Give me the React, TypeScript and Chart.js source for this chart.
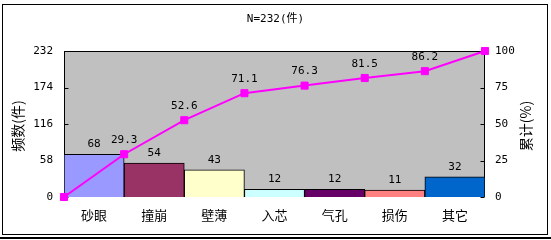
import React, { useEffect, useRef } from "react";
import { Chart, registerables } from "chart.js";

Chart.register(...registerables);

const categories = ["砂眼", "撞崩", "壁薄", "入芯", "气孔", "损伤", "其它"];
const counts = [68, 54, 43, 12, 12, 11, 32];
const cumulativePct = [0, 29.3, 52.6, 71.1, 76.3, 81.5, 86.2, 100];
const barColors = ["#9999FF", "#993366", "#FFFFCC", "#CCFFFF", "#660066", "#FF8080", "#0066CC"];
const leftTicks = [0, 58, 116, 174, 232];
const rightTicks = [0, 25, 50, 75, 100];
const titleText = "N=232(件)";
const leftTitle = "频数(件)";
const rightTitle = "累计(%)";

const NUM_FONT = '"DejaVu Sans Mono", "Noto Sans CJK SC", monospace';
const CJK_FONT = '"Noto Sans CJK SC", sans-serif';

const paretoPlugin = {
  id: "pareto",
  beforeDraw(chart: any) {
    const { ctx, chartArea: a } = chart;
    ctx.save();
    ctx.fillStyle = "#C0C0C0";
    ctx.fillRect(a.left, a.top, a.right - a.left, a.bottom - a.top);
    ctx.restore();
  },
  beforeDatasetsDraw(chart: any) {
    const { ctx, chartArea: a, scales } = chart;
    ctx.save();
    ctx.strokeStyle = "#000";
    ctx.lineWidth = 1;
    const l = Math.round(a.left) + 0.5;
    const r = Math.round(a.right) - 0.5;
    const t = Math.round(a.top) + 0.5;
    const b = Math.round(a.bottom) - 0.5;
    ctx.strokeRect(l, t, r - l, b - t);
    ctx.beginPath();
    for (const v of leftTicks) {
      const y = Math.round(scales.y.getPixelForValue(v)) + 0.5;
      ctx.moveTo(l, y);
      ctx.lineTo(l + 4, y);
    }
    for (const v of rightTicks) {
      const y = Math.round(scales.y1.getPixelForValue(v)) + 0.5;
      ctx.moveTo(r, y);
      ctx.lineTo(r - 4, y);
    }
    ctx.stroke();
    ctx.restore();
  },
  afterDatasetsDraw(chart: any) {
    const { ctx } = chart;
    ctx.save();
    ctx.fillStyle = "#000";
    ctx.font = `11px ${NUM_FONT}`;
    ctx.textAlign = "center";
    ctx.textBaseline = "middle";
    const barMeta = chart.getDatasetMeta(1);
    barMeta.data.forEach((el: any, i: number) => {
      ctx.fillText(String(counts[i]), el.x, el.y - 10);
    });
    const lineMeta = chart.getDatasetMeta(0);
    lineMeta.data.forEach((pt: any, i: number) => {
      if (i === 0 || i === cumulativePct.length - 1) return;
      ctx.fillText(cumulativePct[i].toFixed(1), pt.x, pt.y - 14);
    });
    ctx.font = `14px ${CJK_FONT}`;
    const drawRot = (text: string, x: number, y: number) => {
      ctx.save();
      ctx.translate(x, y);
      ctx.rotate(-Math.PI / 2);
      ctx.fillText(text, 0, 0);
      ctx.restore();
    };
    const midY = (chart.chartArea.top + chart.chartArea.bottom) / 2 + 2;
    drawRot(leftTitle, 18, midY);
    drawRot(rightTitle, 526, midY);
    ctx.restore();
  },
};

export default function App() {
  const ref = useRef<HTMLCanvasElement>(null);
  useEffect(() => {
    if (!ref.current) return;
    const chart = new Chart(ref.current, {
      type: "bar",
      data: {
        labels: categories,
        datasets: [
          {
            type: "line",
            data: cumulativePct.map((v, i) => ({ x: i, y: v })),
            xAxisID: "x2",
            yAxisID: "y1",
            borderColor: "#FF00FF",
            backgroundColor: "#FF00FF",
            borderWidth: 2,
            pointStyle: "rect",
            pointRadius: 5,
            pointBackgroundColor: "#FF00FF",
            pointBorderColor: "#FF00FF",
            pointBorderWidth: 1,
            tension: 0,
            clip: false,
            order: 0,
          } as any,
          {
            type: "bar",
            data: counts,
            xAxisID: "x",
            yAxisID: "y",
            backgroundColor: barColors,
            borderColor: "#000",
            borderWidth: 1,
            barPercentage: 1,
            categoryPercentage: 1,
            grouped: false,
            order: 1,
          } as any,
        ],
      },
      options: {
        responsive: false,
        animation: false,
        events: [],
        layout: { padding: 0 },
        plugins: {
          legend: { display: false },
          tooltip: { enabled: false },
          title: {
            display: true,
            text: titleText,
            color: "#000",
            font: { family: NUM_FONT, size: 11, weight: "normal" },
            padding: { top: 13, bottom: 24.8 },
          },
        },
        scales: {
          x: {
            type: "category",
            offset: true,
            grid: { display: false, drawTicks: false },
            border: { display: false },
            ticks: { color: "#000", font: { family: CJK_FONT, size: 13 }, padding: 10, maxRotation: 0 },
            afterFit: (s: any) => {
              s.height = 43;
            },
          },
          x2: {
            type: "linear",
            display: false,
            offset: false,
            min: 0,
            max: categories.length,
          },
          y: {
            type: "linear",
            position: "left",
            min: 0,
            max: 232,
            grid: { display: false, drawTicks: false },
            border: { display: false },
            afterBuildTicks: (s: any) => {
              s.ticks = leftTicks.map((v) => ({ value: v }));
            },
            ticks: { color: "#000", font: { family: NUM_FONT, size: 11 }, padding: 11 },
            afterFit: (s: any) => {
              s.width = 64;
            },
          },
          y1: {
            type: "linear",
            position: "right",
            min: 0,
            max: 100,
            grid: { display: false, drawTicks: false },
            border: { display: false },
            afterBuildTicks: (s: any) => {
              s.ticks = rightTicks.map((v) => ({ value: v }));
            },
            ticks: { color: "#000", font: { family: NUM_FONT, size: 11 }, padding: 10 },
            afterFit: (s: any) => {
              s.width = 66;
            },
          },
        },
      },
      plugins: [paretoPlugin],
    });
    return () => chart.destroy();
  }, []);

  return (
    <div style={{ position: "fixed", left: 0, top: 0, width: 551, height: 240, background: "#fff" }}>
      <div
        style={{
          position: "absolute",
          left: 2,
          top: 4,
          width: 546,
          height: 231,
          border: "1px solid #000",
          boxSizing: "border-box",
        }}
      />
      <div style={{ position: "absolute", left: 0, top: 237, width: 551, height: 2, background: "#000" }} />
      <canvas ref={ref} width={551} height={240} style={{ position: "absolute", left: 0, top: 0, width: 551, height: 240 }} />
    </div>
  );
}
